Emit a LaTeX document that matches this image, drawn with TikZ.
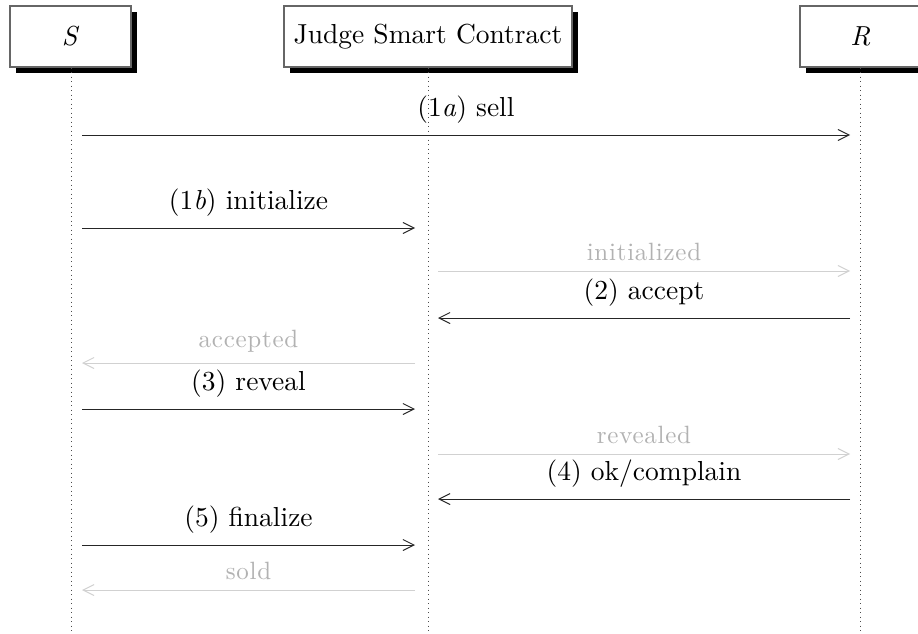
\documentclass[tikz,border=0pt]{standalone}
\usepackage{fontspec}
% Latin Modern at its 10pt design for every size
\setmainfont{lmroman10}[Extension=.otf, UprightFont=*-regular, ItalicFont=*-italic,
  BoldFont=*-bold, BoldItalicFont=*-bolditalic]
\newfontfamily\faintfont{lmroman10}[Extension=.otf, UprightFont=*-regular,
  ItalicFont=*-italic, LetterSpace=3]
\usetikzlibrary{arrows.meta,shadows}

\definecolor{boxline}{gray}{0.4}
\definecolor{faintline}{gray}{0.82}
\definecolor{fainttext}{gray}{0.7}
\definecolor{lifelinecol}{gray}{0.3}

\begin{document}
\begin{tikzpicture}[x=1pt,y=-1pt,
  actor/.style={draw=boxline, line width=1.1pt, fill=white, minimum height=61pt,
    inner sep=0pt, font=\fontsize{27.5}{30}\selectfont,
    drop shadow={shadow xshift=6pt, shadow yshift=-6pt, fill=black, opacity=1}},
  lifeline/.style={draw=lifelinecol, line width=0.9pt, dash pattern=on 0.9pt off 3.6pt},
  msg/.style={line width=1pt, -{Straight Barb[length=11pt,width=11pt]}},
  call/.style={msg, draw=black!85},
  event/.style={msg, draw=faintline},
  calllabel/.style={above=11pt, inner sep=0pt, font=\fontsize{27.5}{30}\selectfont},
  eventlabel/.style={above=10pt, inner sep=0pt, text=fainttext,
    font={\fontsize{25}{28}\faintfont}},
]
\useasboundingbox[fill=white] (0,0) rectangle (918,634);

% participants
\node[actor, minimum width=121pt] (S) at (70.5,36.5) {\textit{S}};
\node[actor, minimum width=288pt] (J) at (428,36.5) {Judge Smart Contract};
\node[actor, minimum width=121pt] (R) at (860.5,36.5) {\textit{R}};

% lifelines
\coordinate (Sbot) at (71,640);
\coordinate (Jbot) at (428,640);
\coordinate (Rbot) at (860,640);
\draw[lifeline] ([xshift=0.5pt]S.south) -- (Sbot);
\draw[lifeline] (J.south) -- (Jbot);
\draw[lifeline] ([xshift=-0.5pt]R.south) -- (Rbot);

% message end points next to each lifeline
\foreach \n/\y in {1/135,2/228,3/271,4/318,5/363,6/409,7/454,8/499,9/545,10/590}{
  \coordinate (S\n) at (82,\y);
  \coordinate (JL\n) at (415,\y);
  \coordinate (JR\n) at (438,\y);
  \coordinate (R\n) at (850,\y);
}

% messages
\draw[call] (S1) -- node[calllabel] (l1) {(1\textit{a}) sell} (R1);
\draw[call] (S2) -- node[calllabel] (l2) {(1\textit{b}) initialize} (JL2);
\draw[event] (JR3) -- node[eventlabel] (l3) {initialized} (R3);
\draw[call] (R4) -- node[calllabel] (l4) {(2) accept} (JR4);
\draw[event] (JL5) -- node[eventlabel] (l5) {accepted} (S5);
\draw[call] (S6) -- node[calllabel] (l6) {(3) reveal} (JL6);
\draw[event] (JR7) -- node[eventlabel] (l7) {revealed} (R7);
\draw[call] (R8) -- node[calllabel] (l8) {(4) ok/complain} (JR8);
\draw[call] (S9) -- node[calllabel] (l9) {(5) finalize} (JL9);
\draw[event] (JL10) -- node[eventlabel] (l10) {sold} (S10);
\end{tikzpicture}
\end{document}
